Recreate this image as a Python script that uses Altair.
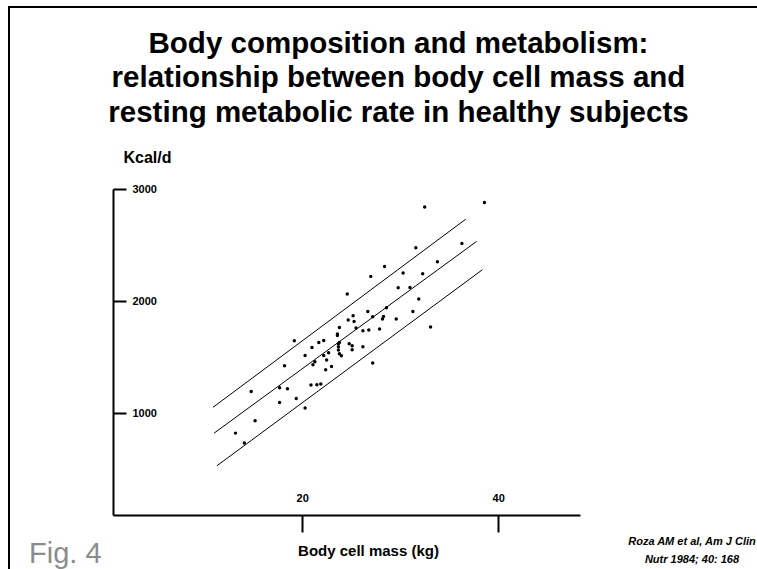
import altair as alt
import pandas as pd

# Body cell mass (kg) and resting metabolic rate (kcal/d)
bcm = [32.5, 38.6, 36.3, 31.6, 33.8, 28.4, 27.0, 30.3, 32.3, 29.8,
       31.0, 24.6, 31.9, 28.6, 26.7, 31.3, 25.2, 27.2, 28.3, 28.2,
       24.7, 25.3, 29.6, 33.1, 23.8, 25.5, 27.9, 26.2, 26.8, 23.6,
       23.6, 19.2, 22.2, 21.7, 23.8, 23.7, 24.8, 21.0, 23.7, 25.1,
       26.2, 25.1, 23.7, 22.7, 20.3, 22.2, 23.8, 24.0, 21.3, 22.5,
       21.1, 18.2, 23.0, 27.2, 22.4, 20.9, 21.5, 21.9, 17.7, 18.5,
       14.8, 19.4, 17.7, 20.3, 15.2, 13.2, 14.1]
rmr = [2839, 2880, 2514, 2476, 2351, 2309, 2220, 2250, 2244, 2119,
       2121, 2062, 2018, 1940, 1907, 1907, 1869, 1860, 1862, 1839,
       1830, 1818, 1839, 1768, 1764, 1759, 1750, 1735, 1741, 1705,
       1693, 1646, 1648, 1630, 1630, 1619, 1619, 1586, 1592, 1601,
       1592, 1565, 1562, 1538, 1514, 1514, 1529, 1512, 1458, 1473,
       1431, 1422, 1416, 1446, 1387, 1250, 1253, 1259, 1226, 1217,
       1193, 1130, 1095, 1045, 931, 821, 732]

# Regression line and its two bounds (end points)
line_names = ["upper", "mean", "lower"]
line_x1 = [10.9, 11.0, 11.3]
line_y1 = [1051, 820, 529]
line_x2 = [36.7, 37.8, 38.4]
line_y2 = [2731, 2532, 2280]

x_ticks = [20, 40]
y_ticks = [1000, 2000, 3000]

title_lines = ["Body composition and metabolism:",
               "relationship between body cell mass and",
               "resting metabolic rate in healthy subjects"]
x_title = "Body cell mass (kg)"
y_title = "Kcal/d"
fig_label = "Fig. 4"
citation = ["Roza AM et al, Am J Clin", "Nutr 1984; 40: 168"]

pts = pd.DataFrame({"bcm": bcm, "rmr": rmr})
lines = pd.DataFrame({"name": line_names, "bcm": line_x1, "rmr": line_y1,
                      "bcm2": line_x2, "rmr2": line_y2})
one = pd.DataFrame({"k": [0]})

W, H = 467, 326
PAD = {"left": 113, "top": 189, "right": 177, "bottom": 54}
FONT = "Liberation Sans"

xscale = alt.Scale(domain=[0.7, 48.35], nice=False, zero=False)
yscale = alt.Scale(domain=[90, 3000], nice=False, zero=False)

x_axis = alt.Axis(values=x_ticks, title=x_title, grid=False,
                  domainColor="black", domainWidth=2,
                  tickColor="black", tickWidth=2, tickSize=17,
                  labelFont=FONT, labelFontWeight="bold", labelFontSize=11,
                  labelColor="black", labelBaseline="middle", labelPadding=-34,
                  titleFont=FONT, titleFontWeight="bold", titleFontSize=15,
                  titleColor="black", titleX=255, titleY=35,
                  titleAlign="center", titleBaseline="middle")
y_axis = alt.Axis(orient="right", offset=-W, values=y_ticks, title=y_title,
                  grid=False, format="d",
                  domainColor="black", domainWidth=2,
                  tickColor="black", tickWidth=2, tickSize=13,
                  labelFont=FONT, labelFontWeight="bold", labelFontSize=11,
                  labelColor="black", labelPadding=6, labelAlign="left",
                  labelBaseline="middle",
                  titleFont=FONT, titleFontWeight="bold", titleFontSize=16,
                  titleColor="black", titleAngle=0, titleX=10, titleY=-32,
                  titleAlign="left", titleBaseline="middle")

# slide frame: only the top and left edges are visible in the reference
right_edge = W + PAD["right"]
bottom_edge = H + PAD["bottom"]
frame_top = alt.Chart(one).mark_rule(color="black", strokeWidth=2).encode(
    x=alt.value(-105), x2=alt.value(right_edge), y=alt.value(-182))
frame_left = alt.Chart(one).mark_rule(color="black", strokeWidth=2).encode(
    x=alt.value(-104), y=alt.value(-183), y2=alt.value(bottom_edge))

rules = alt.Chart(lines).mark_rule(color="black", strokeWidth=1).encode(
    x=alt.X("bcm:Q", scale=xscale, axis=x_axis),
    y=alt.Y("rmr:Q", scale=yscale, axis=y_axis),
    x2="bcm2:Q", y2="rmr2:Q")

points = alt.Chart(pts).mark_circle(size=12, color="black", opacity=1).encode(
    x=alt.X("bcm:Q", scale=xscale, axis=x_axis),
    y=alt.Y("rmr:Q", scale=yscale, axis=y_axis))

fig = alt.Chart(one).mark_text(text=fig_label, align="left", baseline="alphabetic",
                               fontSize=29, font=FONT, color="#8c8c8c").encode(
    x=alt.value(-84), y=alt.value(374))

cite = alt.Chart(one).mark_text(text=citation, align="center", baseline="middle",
                                lineHeight=18, fontSize=11, fontStyle="italic",
                                fontWeight="bold", font=FONT,
                                color="black").encode(
    x=alt.value(579), y=alt.value(353))

chart = alt.layer(frame_top, frame_left, rules, points, fig, cite).properties(
    width=W, height=H,
    title=alt.TitleParams(text=title_lines, fontSize=29.5, font=FONT, fontWeight="bold",
                          color="black", anchor="middle", dx=52, dy=123,
                          lineHeight=34.5, offset=0, baseline="top"),
    autosize=alt.AutoSizeParams(type="none"),
    padding=PAD,
).configure_view(strokeWidth=0)

chart.save("out.html", embed_options={"renderer": "svg", "actions": False})
